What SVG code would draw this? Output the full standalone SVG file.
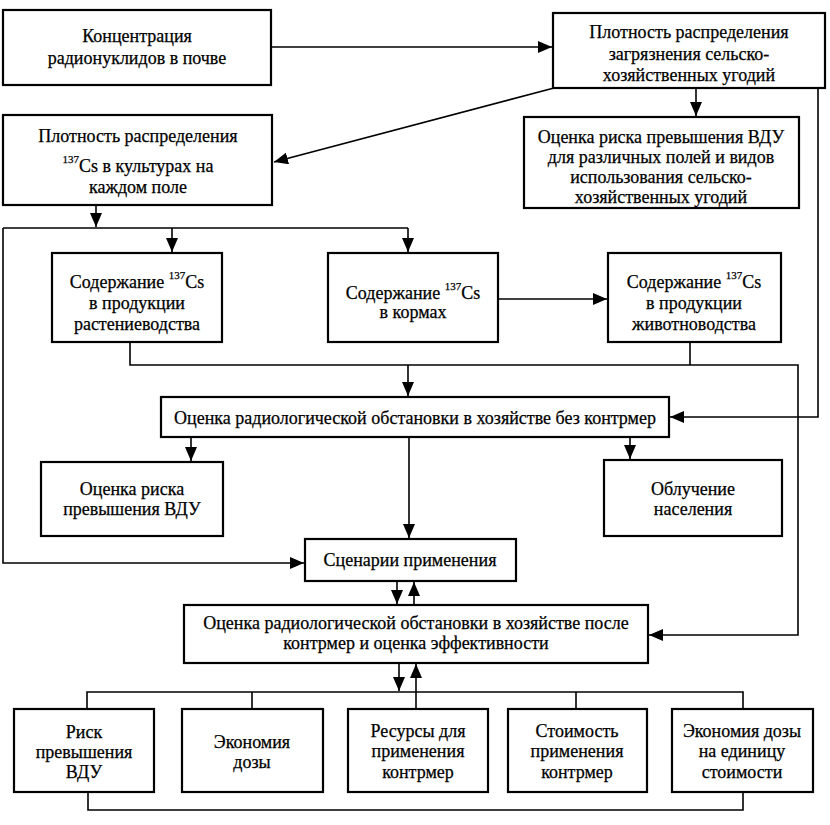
<svg xmlns="http://www.w3.org/2000/svg" width="830" height="825" viewBox="0 0 830 825">
<defs>
<marker id="ah" markerUnits="userSpaceOnUse" markerWidth="14" markerHeight="12" viewBox="0 0 14 12" refX="14" refY="6" orient="auto">
<path d="M0,0 L14,6 L0,12 Z" fill="#000"/>
</marker>
</defs>
<style>
.box{fill:#fff;stroke:#000;stroke-width:2.2}
.c{fill:none;stroke:#000;stroke-width:1.6}
.a{marker-end:url(#ah)}
text{font-family:"Liberation Serif","Times New Roman",serif;font-size:18px;fill:#000;stroke:#000;stroke-width:0.25;text-anchor:middle}
.sup{font-size:11px}
</style>
<rect width="830" height="825" fill="#fff"/>
<g id="connectors">
<path class="c a" d="M271,47 H552"/>
<path class="c a" d="M554,88 L274,162"/>
<path class="c a" d="M696,88 V116"/>
<path class="c a" d="M818,88 V417 H670"/>
<path class="c a" d="M96,205 V227"/>
<path class="c" d="M3,228 H408"/>
<path class="c a" d="M172,228 V252"/>
<path class="c a" d="M408,228 V252"/>
<path class="c a" d="M3,228 V563 H304"/>
<path class="c a" d="M498,299 H607"/>
<path class="c a" d="M130,342 V365 H798 V635 H649"/>
<path class="c" d="M690,342 V365"/>
<path class="c a" d="M408,365 V396"/>
<path class="c a" d="M191,437 V461"/>
<path class="c a" d="M630,437 V459"/>
<path class="c a" d="M409,437 V538"/>
<path class="c a" d="M397,581 V604"/>
<path class="c a" d="M414,605 V582"/>
<path class="c a" d="M399,663 V691"/>
<path class="c a" d="M416,709 V664"/>
<path class="c" d="M87,709 V692 H743 V709 M252,692 V709 M576,692 V709"/>
<path class="c" d="M88,792 V810 H743 V792"/>
</g>
<g id="n1"><rect class="box" x="3" y="10" width="268" height="75"/>
<text x="137" y="42">Концентрация</text><text x="137" y="64">радионуклидов в почве</text></g>
<g id="n2"><rect class="box" x="553" y="13" width="272" height="75"/>
<text x="689" y="38">Плотность распределения</text><text x="689" y="60">загрязнения сельско-</text><text x="689" y="81">хозяйственных угодий</text></g>
<g id="n3"><rect class="box" x="3" y="115" width="269" height="90"/>
<text x="138" y="142">Плотность распределения</text><text x="138" y="172"><tspan class="sup" dy="-9">137</tspan><tspan dy="9">Cs в культурах на</tspan></text><text x="138" y="193">каждом поле</text></g>
<g id="n4"><rect class="box" x="524" y="117" width="275" height="91"/>
<text x="661" y="143">Оценка риска превышения ВДУ</text><text x="661" y="163">для различных полей и видов</text><text x="661" y="183">использования сельско-</text><text x="661" y="203">хозяйственных угодий</text></g>
<g id="n5"><rect class="box" x="52" y="253" width="170" height="89"/>
<text x="137" y="288">Содержание <tspan class="sup" dy="-9">137</tspan><tspan dy="9">Cs</tspan></text><text x="137" y="309">в продукции</text><text x="137" y="330">растениеводства</text></g>
<g id="n6"><rect class="box" x="328" y="253" width="170" height="89"/>
<text x="413" y="299">Содержание <tspan class="sup" dy="-9">137</tspan><tspan dy="9">Cs</tspan></text><text x="413" y="318">в кормах</text></g>
<g id="n7"><rect class="box" x="608" y="253" width="173" height="89"/>
<text x="694" y="288">Содержание <tspan class="sup" dy="-9">137</tspan><tspan dy="9">Cs</tspan></text><text x="694" y="309">в продукции</text><text x="694" y="330">животноводства</text></g>
<g id="n8"><rect class="box" x="161" y="397" width="508" height="40"/>
<text x="415" y="424">Оценка радиологической обстановки в хозяйстве без контрмер</text></g>
<g id="n9"><rect class="box" x="41" y="462" width="182" height="74"/>
<text x="132" y="495">Оценка риска</text><text x="132" y="515">превышения ВДУ</text></g>
<g id="n10"><rect class="box" x="604" y="460" width="178" height="76"/>
<text x="693" y="495">Облучение</text><text x="693" y="515">населения</text></g>
<g id="n11"><rect class="box" x="305" y="539" width="211" height="42"/>
<text x="410" y="566">Сценарии применения</text></g>
<g id="n12"><rect class="box" x="184" y="605" width="464" height="58"/>
<text x="416" y="629">Оценка радиологической обстановки в хозяйстве после</text><text x="416" y="649">контрмер и оценка эффективности</text></g>
<g id="n13"><rect class="box" x="14" y="709" width="140" height="83"/>
<text x="84" y="738">Риск</text><text x="84" y="758">превышения</text><text x="84" y="778">ВДУ</text></g>
<g id="n14"><rect class="box" x="182" y="709" width="141" height="83"/>
<text x="252" y="748">Экономия</text><text x="252" y="768">дозы</text></g>
<g id="n15"><rect class="box" x="348" y="709" width="140" height="83"/>
<text x="418" y="737">Ресурсы для</text><text x="418" y="757">применения</text><text x="418" y="778">контрмер</text></g>
<g id="n16"><rect class="box" x="508" y="709" width="139" height="83"/>
<text x="577" y="737">Стоимость</text><text x="577" y="757">применения</text><text x="577" y="778">контрмер</text></g>
<g id="n17"><rect class="box" x="672" y="709" width="141" height="83"/>
<text x="742" y="737">Экономия дозы</text><text x="742" y="757">на единицу</text><text x="742" y="778">стоимости</text></g>
</svg>
